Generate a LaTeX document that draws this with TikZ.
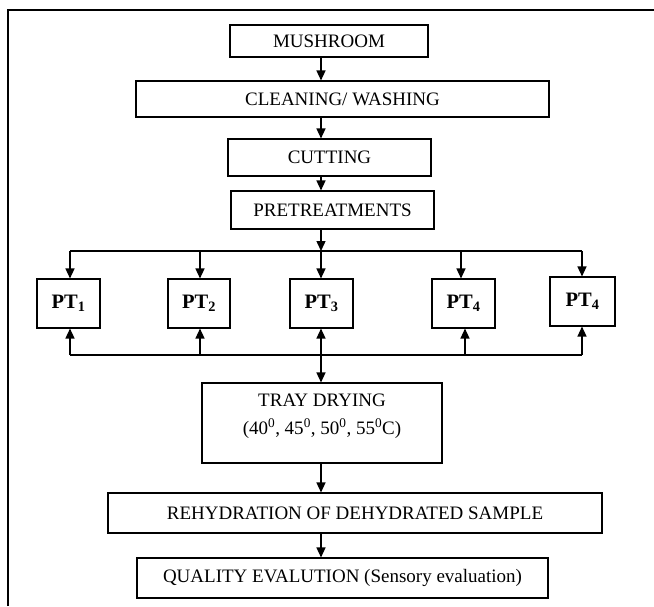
\documentclass[tikz,border=0pt]{standalone}
\usepackage{fontspec}
\setmainfont{Liberation Serif}
\usetikzlibrary{arrows.meta}
\begin{document}
\begin{tikzpicture}[x=1pt,y=-1pt,
  box/.style={draw, line width=1.1pt, inner sep=0pt, font=\fontsize{19}{23}\selectfont},
  ptbox/.style={draw, line width=1.1pt, inner sep=0pt, minimum width=63pt, minimum height=49pt, font=\fontsize{20.5}{24}\selectfont\bfseries},
  arr/.style={line width=1.4pt, -{Triangle[length=10pt,width=9pt]}},
  ln/.style={line width=1.4pt}]
\useasboundingbox (0,0) rectangle (654,606);
\draw[line width=2.2pt] (8,606) -- (8,10) -- (654,10);

\node[box, minimum width=198pt, minimum height=32pt] (mush) at (329,41) {MUSHROOM};
\node[box, minimum width=413pt, minimum height=36pt] (clean) at (342.5,99) {CLEANING/ WASHING};
\node[box, minimum width=203pt, minimum height=37pt] (cut) at (329.5,157.5) {CUTTING};
\node[box, minimum width=203pt, minimum height=38pt] (pre) at (332.5,210) {PRETREATMENTS};

\node[ptbox] (pt1) at (68.5,303.5) {PT\textsubscript{1}};
\node[ptbox, minimum width=62pt] (pt2) at (199,303.5) {PT\textsubscript{2}};
\node[ptbox] (pt3) at (321.5,303.5) {PT\textsubscript{3}};
\node[ptbox] (pt4) at (463.5,303.5) {PT\textsubscript{4}};
\node[ptbox, minimum width=65pt] (pt5) at (582.5,301.5) {PT\textsubscript{4}};

\node[box, minimum width=240pt, minimum height=80pt] (tray) at (322,423) {};
\node[font=\fontsize{19}{28}\selectfont, align=center, anchor=north, inner sep=0pt] (traytxt)
  at ([yshift=-11pt]tray.north) {TRAY DRYING\\(40\textsuperscript{0}, 45\textsuperscript{0}, 50\textsuperscript{0}, 55\textsuperscript{0}C)};

\node[box, minimum width=494pt, minimum height=40pt] (rehyd) at (355,513) {REHYDRATION OF DEHYDRATED SAMPLE};
\node[box, minimum width=411pt, minimum height=40pt] (qual) at (342.5,578) {QUALITY EVALUTION (Sensory evaluation)};

\coordinate (ax) at (321,0);
\coordinate (tb) at (321,251);
\coordinate (bb) at (321,355);
\coordinate (t1) at (70,251);
\coordinate (t2) at (200,251);
\coordinate (t4) at (461,251);
\coordinate (t5) at (582,251);
\coordinate (b1) at (70,355);
\coordinate (b2) at (200,355);
\coordinate (b4) at (465,355);
\coordinate (b5) at (582,355);

\draw[arr] (mush.south -| ax) -- (clean.north -| ax);
\draw[arr] (clean.south -| ax) -- (cut.north -| ax);
\draw[arr] (cut.south -| ax) -- (pre.north -| ax);
\draw[arr] (pre.south -| ax) -- (tb);
\draw[ln] (t1) -- (t5);
\draw[arr] (t1) -- (pt1.north -| t1);
\draw[arr] (t2) -- (pt2.north -| t2);
\draw[arr] (tb) -- (pt3.north -| tb);
\draw[arr] (t4) -- (pt4.north -| t4);
\draw[arr] (t5) -- (pt5.north -| t5);
\draw[ln] (b1) -- (b5);
\draw[arr] (b1) -- (pt1.south -| b1);
\draw[arr] (b2) -- (pt2.south -| b2);
\draw[arr] (bb) -- (pt3.south -| bb);
\draw[arr] (b4) -- (pt4.south -| b4);
\draw[arr] (b5) -- (pt5.south -| b5);
\draw[arr] (bb) -- (tray.north -| bb);
\draw[arr] (tray.south -| ax) -- (rehyd.north -| ax);
\draw[arr] (rehyd.south -| ax) -- (qual.north -| ax);
\end{tikzpicture}
\end{document}
